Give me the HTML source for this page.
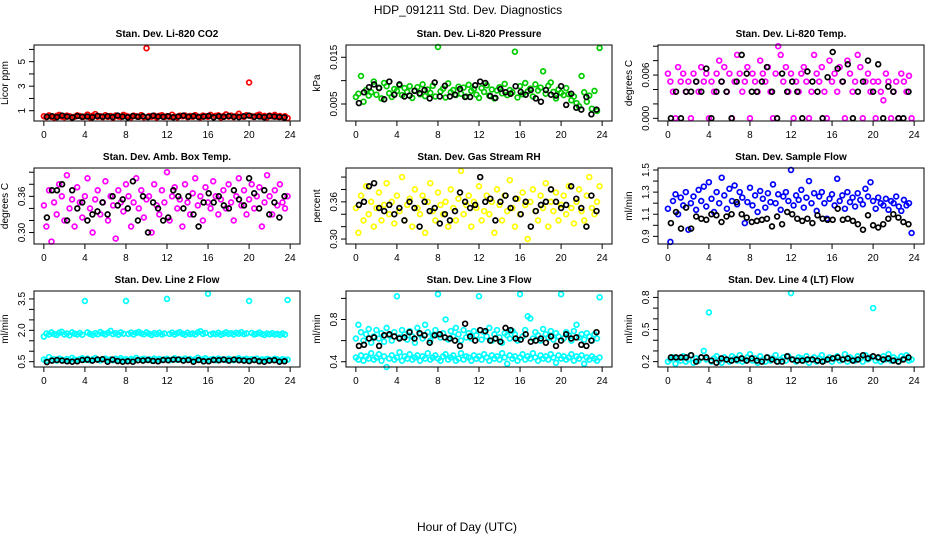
<!DOCTYPE html>
<html><head><meta charset="utf-8"><style>
html,body{margin:0;padding:0;background:#fff;}
svg{display:block;font-family:"Liberation Sans",sans-serif;}
</style></head><body>
<svg id="chart" width="936" height="540" viewBox="0 0 936 540">
<text x="468" y="14" font-size="12" text-anchor="middle">HDP_091211  Std. Dev. Diagnostics</text>
<text x="467" y="531" font-size="12" text-anchor="middle">Hour of Day (UTC)</text>
</svg>
<script>
// ---- data ----
const xTicks=[0,4,8,12,16,20,24];
const co2Red=[0.55,0.48,0.62,0.5,0.45,0.58,0.66,0.52,0.47,0.6,0.55,0.43,0.5,0.62,0.57,0.49,0.53,0.68,0.46,0.59,0.72,0.51,0.55,0.48,0.63,0.5,0.57,0.44,0.61,0.53,0.49,0.66,0.58,0.52,0.46,0.6,0.55,0.5,0.64,0.47,6.1,0.56,0.51,0.6,0.45,0.58,0.63,0.49,0.55,0.5,0.67,0.52,0.46,0.59,0.54,0.61,0.48,0.57,0.5,0.64,0.53,0.47,0.6,0.55,0.51,0.66,0.49,0.58,0.62,0.45,0.56,0.7,0.52,0.6,0.48,0.57,0.75,0.54,0.5,0.63,3.3,0.55,0.49,0.61,0.68,0.52,0.58,0.46,0.6,0.54,0.66,0.5,0.57,0.48,0.55,0.4];
const co2Black=[0.5,0.55,0.48,0.6,0.52,0.45,0.57,0.5,0.53,0.47,0.58,0.51,0.55,0.49,0.6,0.52,0.46,0.56,0.5,0.54,0.48,0.59,0.52,0.5,0.55,0.47,0.53,0.6,0.5,0.56,0.49,0.52,0.58,0.46,0.54,0.5,0.57,0.51,0.48,0.55,0.6,0.5,0.53,0.47,0.56,0.52,0.49,0.45];
const presGreen=[6.5e-3,7.2e-3,11e-3,5.5e-3,8e-3,6.8e-3,7.5e-3,9.8e-3,7e-3,8.5e-3,6.2e-3,9.5e-3,8.8e-3,7.3e-3,6.5e-3,8.2e-3,7.8e-3,9e-3,6.9e-3,8.4e-3,7.6e-3,8.8e-3,6.3e-3,7.9e-3,8.6e-3,7.1e-3,9.2e-3,6.7e-3,8.1e-3,7.4e-3,8.9e-3,6.6e-3,17.2e-3,7.7e-3,8.3e-3,6.4e-3,9.4e-3,7.5e-3,8e-3,6.9e-3,8.7e-3,7.2e-3,8.5e-3,6.6e-3,9.1e-3,7.8e-3,8.2e-3,7e-3,6.3e-3,8.4e-3,7.6e-3,9e-3,6.8e-3,8.1e-3,6.2e-3,7.9e-3,8.6e-3,7.3e-3,9.3e-3,6.9e-3,8e-3,7.5e-3,16.2e-3,6.4e-3,8.8e-3,7.1e-3,9.5e-3,7.7e-3,8.3e-3,6.6e-3,9.2e-3,7.9e-3,8.5e-3,12e-3,7.2e-3,8.9e-3,9.6e-3,7.6e-3,6.2e-3,8.1e-3,7.4e-3,6.9e-3,8.4e-3,7.1e-3,5.8e-3,6.6e-3,5.2e-3,4.5e-3,11e-3,7.5e-3,5.5e-3,6.8e-3,4e-3,7.8e-3,3.5e-3,17e-3];
const presBlack=[5.2e-3,7.5e-3,8.6e-3,9.2e-3,8.4e-3,6e-3,9.8e-3,7e-3,9.2e-3,6.6e-3,6.8e-3,7.8e-3,7.3e-3,8e-3,6.2e-3,9.6e-3,6.6e-3,8.9e-3,6.6e-3,7e-3,8.2e-3,6.5e-3,6.5e-3,9e-3,9.8e-3,9.5e-3,6.7e-3,6.3e-3,8.2e-3,7.5e-3,7.2e-3,8.8e-3,7.6e-3,7e-3,8e-3,6.2e-3,5.5e-3,8e-3,7e-3,6.8e-3,8.8e-3,4.8e-3,7.2e-3,4.2e-3,3.8e-3,6.5e-3,2.8e-3,3.8e-3];
const tempMag=[6.2e-3,5.1e-3,3.7e-3,0,7.1e-3,5.1e-3,6.2e-3,3.7e-3,5.1e-3,0,6.2e-3,5.1e-3,3.7e-3,7.1e-3,5.1e-3,6.2e-3,0,5.1e-3,3.7e-3,6.2e-3,8e-3,5.1e-3,7.1e-3,3.7e-3,6.2e-3,0,5.1e-3,8.8e-3,6.2e-3,3.7e-3,5.1e-3,7.1e-3,0,6.2e-3,5.1e-3,3.7e-3,8e-3,6.2e-3,5.1e-3,7.1e-3,3.7e-3,0,6.2e-3,10e-3,8.8e-3,5.1e-3,7.1e-3,3.7e-3,6.2e-3,0,5.1e-3,3.7e-3,6.2e-3,7.1e-3,5.1e-3,0,3.7e-3,8.8e-3,6.2e-3,5.1e-3,7.1e-3,3.7e-3,0,8e-3,5.1e-3,6.2e-3,3.7e-3,7.1e-3,5.1e-3,0,8e-3,6.2e-3,3.7e-3,5.1e-3,8.8e-3,7.1e-3,0,5.1e-3,6.2e-3,3.7e-3,5.1e-3,0,5.1e-3,3.7e-3,2.5e-3,6.2e-3,5.1e-3,0,3.7e-3,5.1e-3,0,6.2e-3,5.1e-3,3.7e-3,5.9e-3,0];
const tempBlack=[0,3.7e-3,0,3.7e-3,3.7e-3,5.1e-3,3.7e-3,6.9e-3,0,3.7e-3,5.1e-3,3.7e-3,0,5.1e-3,8.8e-3,6.2e-3,3.7e-3,3.7e-3,5.1e-3,7.1e-3,3.7e-3,0,6.2e-3,3.7e-3,5.1e-3,3.7e-3,0,6.5e-3,5.1e-3,3.7e-3,0,5.7e-3,9.2e-3,6.9e-3,5.1e-3,7.5e-3,0,3.7e-3,5.1e-3,8e-3,3.7e-3,7.5e-3,0,4.4e-3,3.7e-3,0,0,3.7e-3];
const ambMag=[0.345,0.31,0.37,0.285,0.35,0.33,0.38,0.36,0.32,0.395,0.34,0.355,0.31,0.375,0.35,0.325,0.36,0.39,0.34,0.3,0.355,0.37,0.33,0.35,0.385,0.32,0.36,0.345,0.29,0.37,0.35,0.335,0.38,0.36,0.31,0.35,0.39,0.34,0.37,0.325,0.355,0.36,0.3,0.38,0.345,0.33,0.37,0.35,0.4,0.32,0.36,0.375,0.34,0.355,0.31,0.38,0.35,0.33,0.365,0.39,0.345,0.36,0.32,0.375,0.35,0.34,0.385,0.36,0.33,0.355,0.37,0.34,0.38,0.35,0.32,0.36,0.39,0.345,0.37,0.33,0.355,0.38,0.34,0.36,0.375,0.31,0.35,0.395,0.36,0.33,0.37,0.345,0.38,0.35,0.34,0.36];
const ambBlack=[0.325,0.37,0.37,0.38,0.32,0.37,0.34,0.35,0.32,0.33,0.335,0.35,0.33,0.36,0.345,0.355,0.34,0.385,0.32,0.36,0.3,0.35,0.34,0.32,0.325,0.37,0.36,0.34,0.36,0.33,0.31,0.35,0.365,0.35,0.36,0.345,0.34,0.37,0.355,0.345,0.39,0.365,0.34,0.37,0.33,0.35,0.325,0.36];
const rhYellow=[0.35,0.31,0.37,0.33,0.385,0.34,0.36,0.32,0.35,0.375,0.33,0.355,0.39,0.34,0.36,0.325,0.37,0.345,0.4,0.33,0.355,0.365,0.32,0.38,0.35,0.34,0.37,0.31,0.36,0.39,0.345,0.33,0.375,0.355,0.34,0.36,0.32,0.38,0.35,0.33,0.365,0.41,0.34,0.355,0.37,0.32,0.36,0.35,0.385,0.33,0.345,0.37,0.34,0.36,0.31,0.38,0.355,0.33,0.37,0.345,0.395,0.35,0.32,0.365,0.34,0.375,0.355,0.3,0.36,0.38,0.345,0.33,0.37,0.35,0.39,0.32,0.36,0.345,0.375,0.33,0.355,0.37,0.34,0.385,0.35,0.325,0.36,0.38,0.345,0.33,0.37,0.4,0.35,0.34,0.36,0.385];
const rhBlack=[0.355,0.36,0.385,0.39,0.35,0.345,0.355,0.34,0.35,0.33,0.36,0.35,0.32,0.36,0.345,0.35,0.325,0.34,0.33,0.345,0.375,0.36,0.35,0.355,0.4,0.36,0.365,0.33,0.36,0.37,0.35,0.365,0.34,0.36,0.32,0.345,0.355,0.36,0.38,0.36,0.35,0.355,0.385,0.365,0.35,0.32,0.37,0.345];
const flowBlue=[1.15,0.85,1.22,1.28,1.1,1.25,1.18,1.3,0.96,1.2,1.26,1.14,1.32,1.22,1.35,1.17,1.39,1.24,1.12,1.3,1.2,1.43,1.27,1.15,1.33,1.22,1.36,1.19,1.3,1.25,1.02,1.21,1.34,1.18,1.27,1.12,1.31,1.24,1.16,1.29,1.21,1.37,1.2,1.28,1.14,1.26,1.3,1.22,1.5,1.18,1.27,1.23,1.32,1.16,1.25,1.4,1.2,1.29,1.13,1.26,1.3,1.2,1.06,1.24,1.28,1.18,1.42,1.22,1.27,1.15,1.3,1.21,1.25,1.17,1.29,1.23,1.19,1.33,1.26,1.39,1.22,1.15,1.25,1.2,1.18,1.24,1.14,1.22,1.2,1.26,1.17,1.13,1.23,1.18,1.2,0.93];
const flowBlack=[1.02,1.12,0.97,1.16,0.97,1.08,1.06,1.05,1.1,1.09,1.03,1.08,1.1,1.21,1.1,1.07,1.03,1.04,1.05,1.06,0.99,1.08,1.01,1.12,1.1,1.06,1.04,1.06,1.02,1.09,1.06,1.05,1.05,1.15,1.05,1.06,1.04,1.01,0.96,1.09,1,0.98,1.01,1.06,1.1,1.07,1.03,1.01];
const line2Hi=[1.7,1.85,1.8,1.9,1.82,1.78,1.88,1.93,1.8,1.85,1.76,1.9,1.84,1.8,1.87,1.79,3.4,1.9,1.83,1.78,1.86,1.81,1.92,1.85,1.8,1.88,1.97,1.82,1.86,1.79,1.9,1.84,3.4,1.83,1.89,1.8,1.87,1.92,1.85,1.81,1.9,1.84,1.78,1.86,1.82,1.88,1.8,1.85,3.5,1.83,1.89,1.8,1.86,1.91,1.84,1.79,1.88,1.82,1.85,1.8,1.9,1.96,1.83,1.87,3.75,1.8,1.85,1.82,1.88,1.79,1.84,1.9,1.83,1.86,1.8,1.88,1.84,1.91,1.82,1.85,3.4,1.87,1.8,1.84,1.89,1.82,1.78,1.85,1.81,1.86,1.8,1.83,1.78,1.85,1.8,3.45];
const line2Lo=[0.6,0.55,0.72,0.58,0.62,0.55,0.65,0.6,0.57,0.63,0.56,0.68,0.6,0.58,0.62,0.66,0.59,0.64,0.57,0.61,0.67,0.6,0.56,0.63,0.65,0.58,0.61,0.57,0.64,0.6,0.66,0.59,0.62,0.57,0.63,0.6,0.68,0.58,0.61,0.64,0.59,0.62,0.56,0.65,0.6,0.63,0.58,0.61,0.64,0.57,0.6,0.66,0.59,0.62,0.58,0.65,0.6,0.63,0.57,0.61,0.69,0.59,0.62,0.66,0.58,0.6,0.63,0.57,0.65,0.6,0.62,0.58,0.64,0.6,0.57,0.63,0.66,0.59,0.61,0.64,0.58,0.62,0.6,0.65,0.57,0.61,0.59,0.63,0.6,0.58,0.64,0.61,0.57,0.62,0.59,0.6];
const line2Black=[0.48,0.55,0.58,0.55,0.52,0.5,0.52,0.58,0.6,0.55,0.6,0.62,0.5,0.6,0.53,0.5,0.52,0.5,0.57,0.55,0.58,0.54,0.52,0.58,0.57,0.6,0.6,0.55,0.58,0.5,0.58,0.52,0.52,0.58,0.57,0.6,0.55,0.6,0.57,0.55,0.53,0.58,0.52,0.5,0.55,0.57,0.5,0.52];
const line3Lo=[0.44,0.42,0.46,0.41,0.45,0.43,0.48,0.42,0.44,0.47,0.41,0.45,0.35,0.43,0.46,0.42,0.44,0.49,0.41,0.45,0.43,0.47,0.42,0.44,0.46,0.41,0.45,0.43,0.48,0.42,0.44,0.46,0.43,0.41,0.45,0.47,0.42,0.44,0.46,0.41,0.43,0.48,0.42,0.45,0.44,0.41,0.46,0.43,0.45,0.42,0.47,0.44,0.41,0.46,0.43,0.45,0.42,0.48,0.44,0.38,0.46,0.43,0.45,0.41,0.44,0.47,0.42,0.45,0.43,0.48,0.44,0.41,0.46,0.43,0.45,0.42,0.47,0.44,0.39,0.46,0.43,0.45,0.42,0.44,0.47,0.41,0.45,0.43,0.46,0.38,0.44,0.42,0.45,0.43,0.41,0.44];
const line3Hi=[0.62,0.75,0.68,0.6,0.66,0.71,0.58,0.64,0.7,0.62,0.67,0.59,0.72,0.65,0.6,0.68,1.02,0.63,0.7,0.66,0.61,0.69,0.64,0.58,0.72,0.66,0.62,0.75,0.68,0.6,0.65,0.7,1.04,0.63,0.67,0.8,0.61,0.69,0.64,0.72,0.66,0.6,0.7,0.63,0.67,0.62,0.69,0.65,1.02,0.61,0.68,0.64,0.72,0.6,0.66,0.7,0.63,0.58,0.67,0.65,0.62,0.69,0.66,0.6,1.04,0.64,0.7,0.83,0.81,0.62,0.68,0.65,0.6,0.71,0.66,0.63,0.69,0.61,0.67,0.64,1.04,0.62,0.68,0.65,0.6,0.69,0.75,0.63,0.66,0.61,0.67,0.64,0.6,0.66,0.62,1.01];
const line3Black=[0.55,0.56,0.62,0.63,0.55,0.65,0.66,0.64,0.62,0.63,0.68,0.62,0.67,0.65,0.58,0.65,0.66,0.63,0.62,0.6,0.55,0.76,0.64,0.6,0.7,0.69,0.6,0.62,0.59,0.72,0.7,0.62,0.61,0.66,0.59,0.6,0.62,0.58,0.64,0.55,0.6,0.66,0.62,0.63,0.56,0.55,0.6,0.68];
const line4Cyan=[0.2,0.22,0.24,0.18,0.23,0.21,0.25,0.2,0.22,0.26,0.19,0.23,0.21,0.24,0.3,0.22,0.66,0.2,0.23,0.25,0.21,0.19,0.24,0.22,0.2,0.25,0.23,0.21,0.26,0.2,0.22,0.24,0.27,0.21,0.23,0.19,0.25,0.22,0.2,0.24,0.21,0.23,0.26,0.2,0.22,0.24,0.21,0.25,0.84,0.22,0.2,0.24,0.23,0.21,0.25,0.19,0.22,0.24,0.2,0.23,0.26,0.21,0.22,0.24,0.2,0.23,0.25,0.21,0.22,0.27,0.2,0.24,0.22,0.21,0.25,0.23,0.2,0.26,0.22,0.24,0.7,0.21,0.23,0.2,0.25,0.22,0.27,0.21,0.24,0.22,0.2,0.25,0.23,0.26,0.21,0.22];
const line4Black=[0.24,0.24,0.24,0.24,0.26,0.2,0.24,0.24,0.21,0.19,0.23,0.22,0.21,0.22,0.23,0.21,0.23,0.21,0.2,0.24,0.22,0.2,0.2,0.25,0.22,0.21,0.21,0.22,0.22,0.21,0.2,0.22,0.23,0.24,0.22,0.23,0.21,0.22,0.26,0.23,0.25,0.24,0.22,0.23,0.21,0.2,0.22,0.24];
const yTicks1=[1,2,3,4,5,6], yLabels1=["1","","3","","5",""];
const yTicks2=[0.005,0.010,0.015], yLabels2=["0.005","","0.015"];
const yTicks3=[0,0.002,0.004,0.006,0.008,0.010], yLabels3=["0.000","","","0.006","",""];
const yTicks4=[0.30,0.32,0.34,0.36,0.38,0.40], yLabels4=["0.30","","","0.36","",""];
const yTicks5=[0.30,0.32,0.34,0.36,0.38,0.40], yLabels5=["0.30","","","0.36","",""];
const yTicks6=[0.9,1.0,1.1,1.2,1.3,1.4,1.5], yLabels6=["0.9","","1.1","","1.3","","1.5"];
const yTicks7=[0.5,1.0,1.5,2.0,2.5,3.0,3.5], yLabels7=["0.5","","","2.0","","","3.5"];
const yTicks8=[0.4,0.6,0.8,1.0], yLabels8=["0.4","","0.8",""];
const yTicks9=[0.2,0.3,0.4,0.5,0.6,0.7,0.8], yLabels9=["0.2","","","0.5","","","0.8"];

const panels=[
 {name:"co2",title:"Stan. Dev. Li-820 CO2",ylab:"Licor ppm",col:0,row:0,ymin:0.16,ymax:6.36,yt:yTicks1,yl:yLabels1,series:[[co2Red,"#ff0000",0],[co2Black,"#000",1]]},
 {name:"pressure",title:"Stan. Dev. Li-820 Pressure",ylab:"kPa",col:1,row:0,ymin:0.00136,ymax:0.01763,yt:yTicks2,yl:yLabels2,series:[[presGreen,"#00cc00",0],[presBlack,"#000",1]]},
 {name:"temp",title:"Stan. Dev. Li-820 Temp.",ylab:"degrees C",col:2,row:0,ymin:-0.00037,ymax:0.01017,yt:yTicks3,yl:yLabels3,series:[[tempMag,"#ff00ff",0],[tempBlack,"#000",1]]},
 {name:"amb-box",title:"Stan. Dev. Amb. Box Temp.",ylab:"degrees C",col:0,row:1,ymin:0.281,ymax:0.407,yt:yTicks4,yl:yLabels4,series:[[ambMag,"#ff00ff",0],[ambBlack,"#000",1]]},
 {name:"rh",title:"Stan. Dev. Gas Stream RH",ylab:"percent",col:1,row:1,ymin:0.292,ymax:0.4146,yt:yTicks5,yl:yLabels5,series:[[rhYellow,"#ffff00",0],[rhBlack,"#000",1]]},
 {name:"sample-flow",title:"Stan. Dev. Sample Flow",ylab:"ml/min",col:2,row:1,ymin:0.831,ymax:1.518,yt:yTicks6,yl:yLabels6,series:[[flowBlue,"#0000ff",0],[flowBlack,"#000",1]]},
 {name:"line2",title:"Stan. Dev. Line 2 Flow",ylab:"ml/min",col:0,row:2,ymin:0.246,ymax:3.88,yt:yTicks7,yl:yLabels7,series:[[line2Hi,"#00ffff",0],[line2Lo,"#00ffff",0],[line2Black,"#000",1]]},
 {name:"line3",title:"Stan. Dev. Line 3 Flow",ylab:"ml/min",col:1,row:2,ymin:0.35,ymax:1.07,yt:yTicks8,yl:yLabels8,series:[[line3Lo,"#00ffff",0],[line3Hi,"#00ffff",0],[line3Black,"#000",1]]},
 {name:"line4",title:"Stan. Dev. Line 4 (LT) Flow",ylab:"ml/min",col:2,row:2,ymin:0.15,ymax:0.86,yt:yTicks9,yl:yLabels9,series:[[line4Cyan,"#00ffff",0],[line4Black,"#000",1]]}
];

const svg=document.getElementById('chart');
const NS="http://www.w3.org/2000/svg";
function mk(tag,attrs,parent){const e=document.createElementNS(NS,tag);for(const k in attrs)e.setAttribute(k,attrs[k]);parent.appendChild(e);return e;}
const W=266,H=76;
panels.forEach(p=>{
  const L=34+312*p.col, T=45+123*p.row, R=L+W, B=T+H;
  const g=mk('g',{},svg);
  
  
  const xs=v=>L+(v+0.96)/25.92*W;
  const ys=v=>B-(v-p.ymin)/(p.ymax-p.ymin)*H;
  const t=mk('text',{x:L+W/2,y:T-8,'font-size':10,'font-weight':'bold','text-anchor':'middle'},g);
  t.textContent=p.title;
  
  
  const yl=mk('text',{x:0,y:0,'font-size':10,'text-anchor':'middle',transform:`translate(${L-26},${T+H/2}) rotate(-90)`},g);
  yl.textContent=p.ylab;
  
  
  p.series.forEach(([vals,color,isBlack])=>{
    const sg=mk('g',{fill:'none',stroke:color,'stroke-width':1.7},g);
    
    
    const step=24/vals.length;
    vals.forEach((v,i)=>{
      const hr=isBlack? 0.3+i*step*0.985 : i*step;
      const c=mk('circle',{cx:xs(hr).toFixed(1),cy:ys(v).toFixed(1),r:2.4},sg);
      
      
    });
  });
  const box=mk('rect',{x:L,y:T,width:W,height:H,fill:'none',stroke:'#000','stroke-width':1},g);
  
  
  xTicks.forEach(v=>{
    const x=xs(v);
    const tk=mk('line',{x1:x,x2:x,y1:B,y2:B+5,stroke:'#000'},g);
    
    
    const lb=mk('text',{x:x,y:B+17,'font-size':10,'text-anchor':'middle'},g);
    lb.textContent=String(v);
    
    
  });
  p.yt.forEach((v,i)=>{
    const y=ys(v);
    const tk=mk('line',{x1:L-5,x2:L,y1:y,y2:y,stroke:'#000'},g);
    
    
    if(p.yl[i]){
      const lb=mk('text',{x:0,y:0,'font-size':10,'text-anchor':'middle',transform:`translate(${L-9},${y}) rotate(-90)`},g);
      lb.textContent=p.yl[i];
      
      
    }
  });
});
</script>
</body></html>
